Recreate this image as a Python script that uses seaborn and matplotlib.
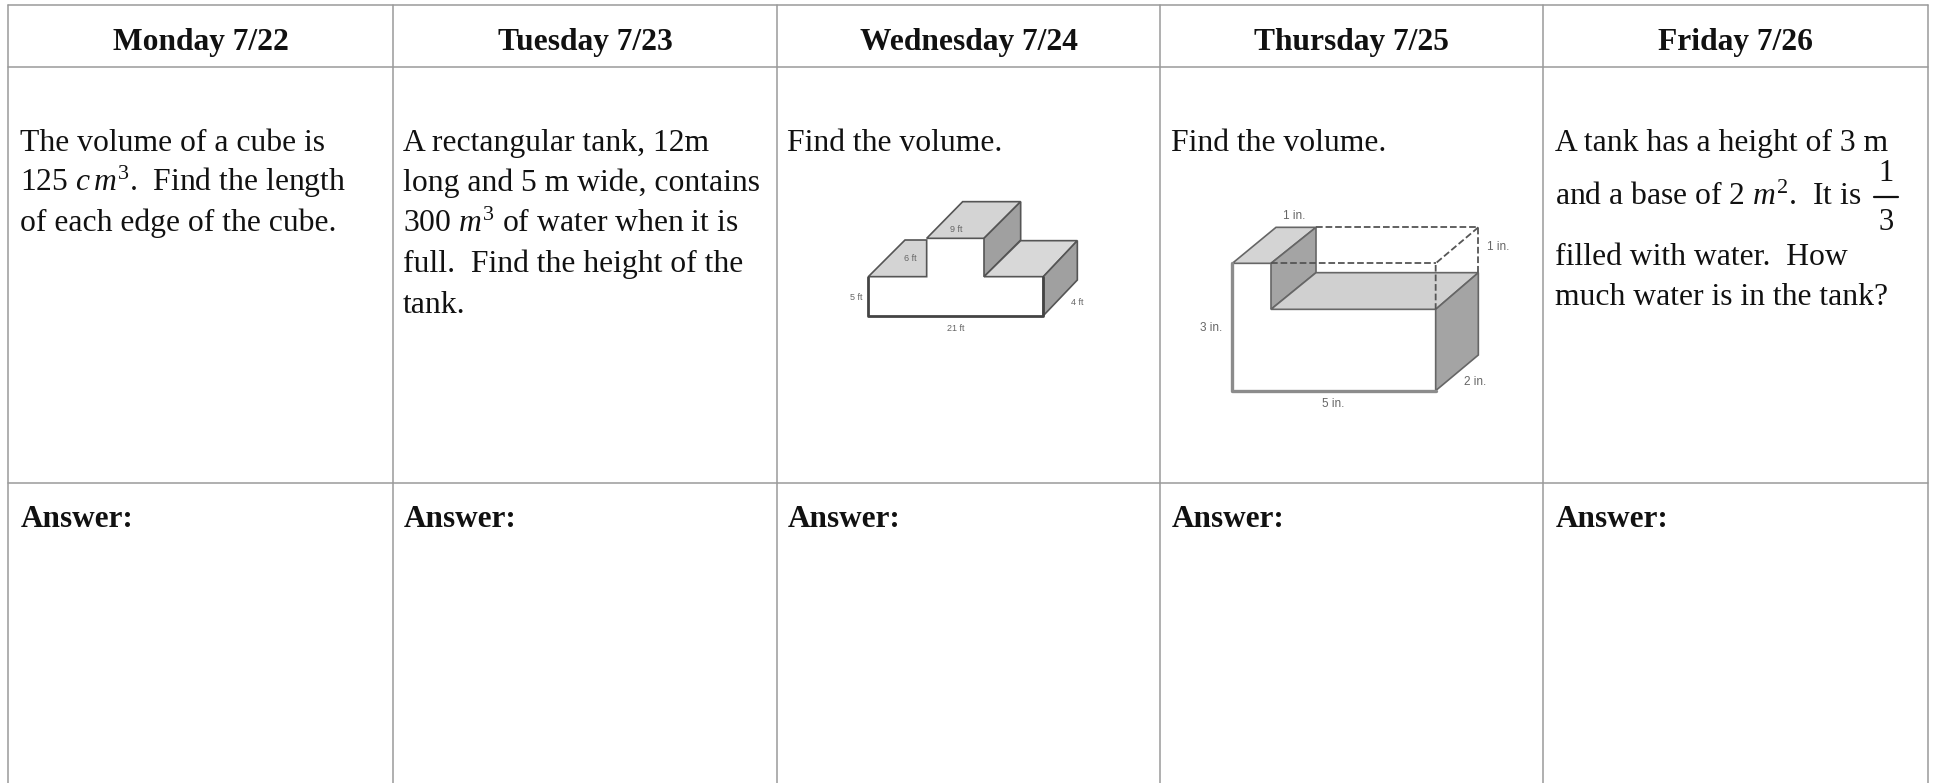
import matplotlib
matplotlib.use('Agg')
import matplotlib.pyplot as plt
import pandas as pd
import seaborn as sns

W, H = 1937, 783

# table contents
days = ["Monday 7/22", "Tuesday 7/23", "Wednesday 7/24", "Thursday 7/25", "Friday 7/26"]
col_edges = [8, 393, 777, 1160, 1543, 1928]
row_edges = [5, 67, 483]
answer_label = "Answer:"
text_x = [20, 403, 787, 1171, 1555]

monday_lines = ["The volume of a cube is", r"125 $c\,m^3$.  Find the length", "of each edge of the cube."]
tuesday_lines = ["A rectangular tank, 12m", "long and 5 m wide, contains", r"300 $m^3$ of water when it is",
                 "full.  Find the height of the", "tank."]
friday_lines = ["A tank has a height of 3 m", r"and a base of 2 $m^2$.  It is",
                "filled with water.  How", "much water is in the tank?"]

# (colour, vertices) of the two drawings, in zoomed crop pixels
wed_faces = [
    ("#d4d4d4", [(265, 500), (375, 390), (440, 390), (440, 500)]),
    ("#d4d4d4", [(440, 385), (548, 275), (722, 275), (612, 385)]),
    ("#a0a0a0", [(612, 385), (722, 275), (722, 390), (612, 500)]),
    ("#d8d8d8", [(612, 500), (722, 392), (892, 392), (790, 500)]),
    ("#a0a0a0", [(790, 500), (892, 392), (892, 510), (790, 617)]),
]
wed_outline = [(265, 500), (265, 617), (790, 617), (790, 500)]
wed_labels = [("5 ft", 228, 562), ("6 ft", 392, 445), ("9 ft", 530, 358), ("4 ft", 892, 577), ("21 ft", 528, 655)]

thu_faces = [
    ("#d4d4d4", [(187, 460), (318, 352), (438, 352), (303, 460)]),
    ("#a4a4a4", [(303, 460), (438, 352), (438, 488), (303, 598)]),
    ("#d0d0d0", [(303, 598), (438, 488), (925, 488), (797, 598)]),
    ("#a4a4a4", [(797, 598), (925, 488), (925, 735), (797, 842)]),
]
thu_outline = [(187, 460), (187, 842), (797, 842)]
thu_dashed = [
    [(438, 352), (925, 352), (925, 488)],
    [(925, 352), (797, 460), (797, 598)],
    [(303, 460), (797, 460)],
]
thu_labels = [("1 in.", 372, 318), ("1 in.", 985, 410), ("3 in.", 122, 655), ("2 in.", 915, 815), ("5 in.", 490, 882)]

sns.set_theme(style="white")
plt.rcParams['font.family'] = ['Liberation Serif', 'DejaVu Serif']
plt.rcParams['mathtext.fontset'] = 'custom'
plt.rcParams['mathtext.rm'] = 'Liberation Serif'
plt.rcParams['mathtext.it'] = 'Liberation Serif:italic'

fig = plt.figure(figsize=(W / 100, H / 100), dpi=100)
ax = fig.add_axes([0, 0, 1, 1])
ax.set_xlim(0, W)
ax.set_ylim(H, 0)
ax.axis("off")


def draw_path(pts, color, lw, ls="-"):
    df = pd.DataFrame(pts, columns=["x", "y"])
    sns.lineplot(data=df, x="x", y="y", ax=ax, color=color, lw=lw, ls=ls, estimator=None, sort=False, legend=False)


# grid
for x in col_edges:
    draw_path([(x, row_edges[0]), (x, H)], "#9a9a9a", 1.1)
for y in row_edges:
    draw_path([(col_edges[0], y), (col_edges[-1], y)], "#9a9a9a", 1.1)

# headers and answers
for i, day in enumerate(days):
    mid = (col_edges[i] + col_edges[i + 1]) / 2
    ax.text(mid, 50, day, fontsize=22.7, fontweight="bold", ha="center", va="baseline", color="#111111")
    ax.text(text_x[i] + 1, 527, answer_label, fontsize=22.5, fontweight="bold", va="baseline", color="#111111")


def body(lines, x, ys):
    for line, y in zip(lines, ys):
        ax.text(x, y, line, fontsize=22.8, va="baseline", color="#111111")


body(monday_lines, text_x[0], [151, 191, 231])
body(tuesday_lines, text_x[1], [151, 191, 232, 272, 313])
body(["Find the volume."], text_x[2], [151])
body(["Find the volume."], text_x[3], [151])
body(friday_lines, text_x[4], [151, 205, 265, 305])

# fraction in the Friday cell
ax.text(1886, 181, "1", fontsize=22, ha="center", va="baseline", color="#111111")
ax.plot([1874, 1898], [197, 197], color="#111111", lw=1.6)
ax.text(1886, 230, "3", fontsize=22, ha="center", va="baseline", color="#111111")


def drawing(faces, outline, labels, x0, y0, size, edge, outline_color, outline_lw, dashed=()):
    conv = lambda pts: [(x0 + px / 3, y0 + py / 3) for px, py in pts]
    for color, pts in faces:
        xs, ys = zip(*conv(pts))
        ax.fill(xs, ys, facecolor=color, edgecolor=edge, lw=1.2)
    draw_path(conv(outline), outline_color, outline_lw)
    for pts in dashed:
        draw_path(conv(pts), "#555555", 1.3, "--")
    for label, px, py in labels:
        ax.text(x0 + px / 3, y0 + py / 3, label, fontsize=size, ha="center", va="center",
                color="#666666", family=["Liberation Sans"])


drawing(wed_faces, wed_outline, wed_labels, 780, 110, 6.5, "#555555", "#444444", 2.0)
drawing(thu_faces, thu_outline, thu_labels, 1170, 110, 8.5, "#666666", "#8c8c8c", 2.4, dashed=thu_dashed)

fig.savefig("out.png", dpi=100, facecolor="white")
